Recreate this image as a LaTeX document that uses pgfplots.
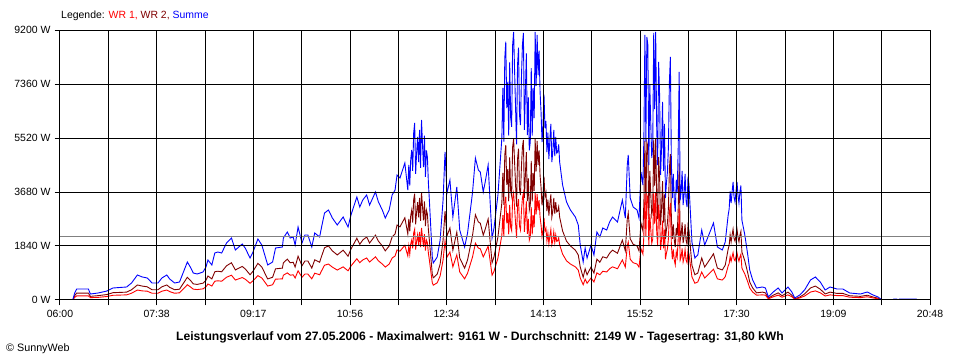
\documentclass[border=0pt]{standalone}
\usepackage{pgfplots}
\usepackage{pgfplotstable}
\usepackage{fontspec}
\setmainfont{Liberation Sans}
\pgfplotsset{compat=1.18}
\definecolor{wrone}{HTML}{FF0000}
\definecolor{wrtwo}{HTML}{800000}
\definecolor{summe}{HTML}{0000FF}
\definecolor{avg}{HTML}{808080}
% t in minutes after midnight, power in W
\pgfplotstableread{
t wra wrb sum
363 0 0 0
373 0 0 0
375 90 150 239
377 140 235 375
389 140 235 375
391 80 124 204
399 90 149 239
408 120 187 307
414 160 249 409
428 175 268 443
433 230 349 579
439 340 512 852
444 310 474 784
449 300 450 750
454 230 349 579
460 230 349 579
464 300 450 750
469 340 512 852
472 285 430 715
477 230 349 579
482 245 368 613
486 380 574 954
490 520 775 1295
493 450 674 1124
496 370 550 920
500 355 531 886
506 380 574 954
509 450 674 1124
511 545 818 1363
515 475 718 1193
518 640 961 1601
521 655 981 1636
525 640 961 1601
530 775 1167 1942
535 845 1268 2113
539 680 1024 1704
546 765 1143 1908
549 710 1062 1772
554 570 861 1431
557 655 981 1636
562 830 1249 2079
566 750 1124 1874
569 615 918 1533
572 475 718 1193
577 520 775 1295
580 710 1062 1772
587 720 1086 1806
588 845 1268 2113
592 925 1392 2317
595 845 1268 2113
598 860 1287 2147
600 750 1124 1874
603 995 1492 2487
607 775 1167 1942
610 885 1330 2215
613 885 1330 2215
617 720 1086 1806
620 915 1368 2283
625 860 1287 2147
627 995 1492 2487
630 1185 1779 2964
634 1225 1842 3067
638 1120 1674 2794
643 1020 1536 2556
649 1130 1698 2828
654 995 1492 2487
657 1160 1736 2896
663 1405 2105 3510
666 1270 1899 3169
669 1365 2042 3407
673 1430 2148 3578
676 1295 1942 3237
682 1470 2210 3680
685 1335 2004 3339
689 1225 1842 3067
692 1120 1674 2794
696 1225 1842 3067
699 1430 2148 3578
702 1500 2248 3748
704 1705 2554 4259
707 1665 2492 4157
712 1865 2803 4668
715 1500 2248 3748
716 1840 2760 4600
717 1560 2340 3900
718 1920 2880 4800
719 2045 3066 5111
720 1760 2640 4400
721 2280 3420 5700
722 2410 3621 6031
723 1720 2580 4300
724 2005 3004 5009
725 2220 3334 5554
726 1880 2820 4700
727 2320 3480 5800
728 1800 2700 4500
729 2455 3678 6133
730 2120 3180 5300
731 1815 2717 4532
732 2240 3360 5600
733 1680 2520 4200
734 2040 3060 5100
735 1950 2923 4873
736 1600 2400 4000
737 1365 2042 3407
740 585 880 1465
741 505 756 1261
745 585 880 1465
748 820 1224 2044
751 1365 2042 3407
753 2015 3028 5043
755 1460 2186 3646
758 1635 2454 4089
761 1130 1698 2828
765 1540 2310 3850
768 955 1430 2385
773 720 1086 1806
776 915 1368 2283
781 1460 2186 3646
784 1935 2903 4838
787 1770 2660 4430
789 1745 2616 4361
792 1470 2210 3680
794 1610 2411 4021
797 1840 2760 4600
801 845 1268 2113
803 980 1473 2453
807 1430 2148 3578
811 2210 3310 5520
812 2890 4334 7224
813 2160 3240 5400
814 3300 4946 8246
815 3520 5280 8800
816 2615 3927 6542
817 2970 4458 7428
818 2240 3360 5600
819 3240 4860 8100
820 2480 3721 6201
821 2360 3540 5900
822 3475 5214 8689
823 3650 5482 9132
824 3120 4680 7800
825 2615 3927 6542
826 2120 3180 5300
827 3205 4802 8007
828 3440 5160 8600
829 2520 3780 6300
830 2385 3578 5963
831 3040 4560 7600
832 3475 5214 8689
833 3640 5458 9098
834 2320 3480 5800
835 2835 4252 7087
836 3360 5040 8400
837 2250 3372 5622
838 2760 4140 6900
839 2040 3060 5100
840 2155 3229 5384
841 3160 4740 7900
842 2240 3360 5600
843 2890 4334 7224
844 2480 3720 6200
845 3650 5482 9132
846 2920 4380 7300
847 3610 5420 9030
848 3065 4602 7667
849 3400 5100 8500
850 2835 4252 7087
851 2560 3840 6400
852 2155 3229 5384
853 2385 3578 5963
854 2800 4200 7000
855 2345 3516 5861
856 2440 3660 6100
857 2015 3028 5043
858 2280 3420 5700
859 1920 2880 4800
860 2180 3272 5452
861 2400 3600 6000
862 1880 2820 4700
863 2015 3028 5043
864 2320 3480 5800
865 1960 2940 4900
866 2220 3334 5554
867 2000 3000 5000
868 2015 3028 5043
869 2120 3180 5300
870 1880 2822 4702
873 1565 2353 3918
877 1335 2004 3339
881 1225 1842 3067
886 1130 1698 2828
889 1020 1536 2556
891 750 1124 1874
894 520 775 1295
896 710 1062 1772
898 570 861 1431
902 750 1124 1874
905 615 918 1533
908 925 1392 2317
911 860 1287 2147
914 980 1473 2453
918 955 1430 2385
921 1065 1593 2658
924 1130 1698 2828
929 1065 1593 2658
934 1365 2042 3407
937 1120 1674 2794
939 1840 2760 4600
940 1975 2966 4941
942 1390 2086 3476
945 1270 1899 3169
949 1225 1842 3067
951 1120 1674 2794
953 1745 2616 4361
955 1565 2353 3918
956 2250 3372 5622
957 3610 5420 9030
958 2160 3240 5400
959 3585 5376 8961
960 3480 5220 8700
961 1840 2760 4600
962 2930 4396 7326
963 2400 3600 6000
964 1935 2903 4838
965 2080 3120 5200
966 3640 5458 9098
967 2600 3900 6500
968 3650 5482 9132
969 2385 3578 5963
970 1840 2760 4600
971 3245 4865 8110
972 2800 4200 7000
973 1705 2554 4259
974 2080 3120 5200
975 2700 4047 6747
976 1760 2640 4400
977 2400 3600 6000
978 1390 2086 3476
979 1600 2400 4000
980 1745 2616 4361
981 2080 3120 5200
982 2970 4458 7428
983 3310 4970 8280
984 1880 2820 4700
985 1390 2086 3476
986 1720 2580 4300
987 1360 2040 3400
988 1200 1800 3000
989 1640 2460 4100
990 1470 2210 3680
991 2080 3120 5200
992 3110 4659 7769
993 1360 2040 3400
994 1470 2210 3680
995 1760 2640 4400
996 1295 1942 3237
997 1440 2160 3600
998 1720 2580 4300
999 1360 2040 3400
1000 1270 1899 3169
1001 1680 2520 4200
1002 1565 2353 3918
1005 790 1186 1976
1008 570 861 1431
1011 615 918 1533
1015 955 1430 2385
1018 750 1124 1874
1021 845 1268 2113
1027 1050 1574 2624
1031 720 1086 1806
1036 680 1024 1704
1039 790 1186 1976
1042 1160 1736 2896
1043 1240 1860 3100
1044 1480 2220 3700
1045 1320 1980 3300
1046 1470 2210 3680
1047 1610 2411 4021
1048 1400 2100 3500
1049 1335 2004 3339
1050 1480 2220 3700
1051 1610 2411 4021
1052 1430 2148 3578
1053 1320 1980 3300
1054 1470 2210 3680
1055 1560 2340 3900
1056 1090 1636 2726
1057 1020 1536 2556
1059 885 1330 2215
1062 615 918 1533
1064 410 612 1022
1067 270 411 681
1071 165 244 409
1077 175 268 443
1080 165 244 409
1083 40 62 102
1088 110 163 273
1093 165 244 409
1097 95 144 239
1100 135 206 341
1103 175 268 443
1107 110 163 273
1110 25 43 68
1115 70 100 170
1120 135 206 341
1126 270 411 681
1131 310 474 784
1136 245 368 613
1141 135 206 341
1146 175 268 443
1153 150 225 375
1159 150 225 375
1166 95 144 239
1177 80 124 204
1184 110 163 273
1190 70 100 170
1195 40 62 102
1199 0 0 0
1210 0 0 0
1211 0 0 34
1214 0 0 34
1215 0 0 0
1217 0 0 34
1234 0 0 34
1235 0 0 0
}\datatable
\begin{document}
\begin{tikzpicture}
\useasboundingbox (0,0) rectangle (960bp,360bp);
\begin{axis}[
  at={(60bp,60bp)}, anchor=south west,
  scale only axis, width=870bp, height=270bp,
  xmin=360, xmax=1248, ymin=0, ymax=9200,
  axis on top,
  axis line style={black, line width=1bp},
  grid=major,
  major grid style={black, line width=1bp},
  tick style={black, line width=1bp},
  major tick length=5.5bp,
  tick align=outside,
  xtick pos=bottom, ytick pos=left,
  xtick={360,409.333,458.667,508,557.333,606.667,656,705.333,754.667,804,853.333,902.667,952,1001.333,1050.667,1100,1149.333,1198.667,1248},
  xticklabels={06:00,{},07:38,{},09:17,{},10:56,{},12:34,{},14:13,{},15:52,{},17:30,{},19:09,{},20:48},
  ytick={0,1840,3680,5520,7360,9200},
  yticklabels={0 W,1840 W,3680 W,5520 W,7360 W,9200 W},
  ticklabel style={font=\fontsize{10.5}{12}\selectfont, text=black},
  xticklabel style={yshift=-1.5bp},
  yticklabel style={xshift=-0.5bp},
  clip=true,
]
\addplot[wrtwo, line width=0.9bp] table[x=t, y=wrb] {\datatable};
\addplot[wrone, line width=0.9bp] table[x=t, y=wra] {\datatable};
\addplot[summe, line width=0.9bp] table[x=t, y=sum] {\datatable};
\addplot[avg, line width=1bp] coordinates {(360,2149) (1248,2149)};
\end{axis}
\node[anchor=west, inner sep=0pt, font=\fontsize{10.5}{12}\selectfont] at (61bp,344bp)
  {Legende: \textcolor{wrone}{WR 1,} \textcolor{wrtwo}{WR 2,} \textcolor{summe}{Summe}};
\node[anchor=center, inner sep=0pt, font=\fontsize{12.2}{14}\selectfont\bfseries] at (480bp,23bp)
  {Leistungsverlauf vom 27.05.2006 - Maximalwert: 9161 W - Durchschnitt: 2149 W - Tagesertrag: 31,80 kWh};
\node[anchor=west, inner sep=0pt, font=\fontsize{10.8}{12}\selectfont] at (6bp,11bp)
  {\textcopyright{} SunnyWeb};
\end{tikzpicture}
\end{document}
